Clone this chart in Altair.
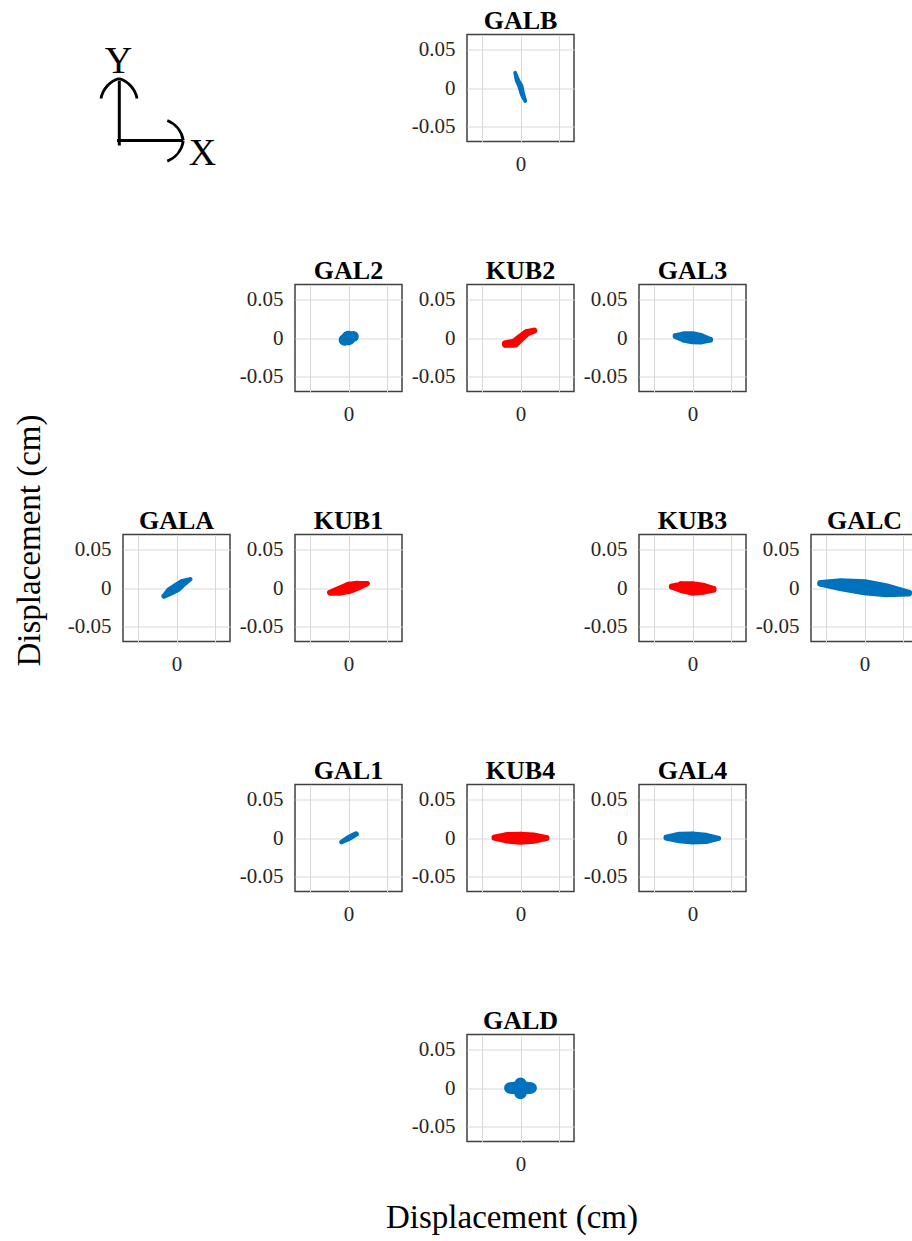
import altair as alt
import pandas as pd

SERIF = "Liberation Serif"
BLUE = "#0072BD"
RED = "#FF0000"

# Orbit footprints per station: centre-line points (cm) and band thickness (cm)
GALB_X = [-0.0070, -0.0040, 0.0000, 0.0025, 0.0062]
GALB_Y = [0.0200, 0.0100, 0.0020, -0.0080, -0.0170]
GALB_W = [0.0050, 0.0070, 0.0080, 0.0070, 0.0050]

GAL2_X = [-0.0055, 0.0000, 0.0065]
GAL2_Y = [-0.0025, 0.0000, 0.0020]
GAL2_W = [0.0150, 0.0190, 0.0140]

KUB2_X = [-0.0193, -0.0075, 0.0000, 0.0079, 0.0180]
KUB2_Y = [-0.0079, -0.0066, 0.0000, 0.0066, 0.0096]
KUB2_W = [0.0100, 0.0120, 0.0110, 0.0100, 0.0080]

GAL3_X = [-0.0220, -0.0110, 0.0000, 0.0110, 0.0230]
GAL3_Y = [0.0025, 0.0014, 0.0003, -0.0009, -0.0022]
GAL3_W = [0.0080, 0.0150, 0.0170, 0.0150, 0.0080]

GALA_X = [-0.0162, -0.0083, 0.0000, 0.0083, 0.0180]
GALA_Y = [-0.0105, -0.0044, 0.0004, 0.0066, 0.0114]
GALA_W = [0.0070, 0.0120, 0.0130, 0.0110, 0.0060]

KUB1_X = [-0.0241, -0.0118, 0.0000, 0.0123, 0.0246]
KUB1_Y = [-0.0061, -0.0035, 0.0000, 0.0031, 0.0057]
KUB1_W = [0.0080, 0.0130, 0.0160, 0.0130, 0.0070]

KUB3_X = [-0.0270, -0.0140, 0.0000, 0.0140, 0.0270]
KUB3_Y = [0.0018, 0.0010, -0.0005, -0.0010, -0.0016]
KUB3_W = [0.0080, 0.0160, 0.0190, 0.0160, 0.0090]

GALC_X = [-0.0575, -0.0320, 0.0000, 0.0294, 0.0579]
GALC_Y = [0.0061, 0.0044, 0.0009, -0.0031, -0.0066]
GALC_W = [0.0090, 0.0170, 0.0210, 0.0180, 0.0090]

GAL1_X = [-0.0092, 0.0004, 0.0101]
GAL1_Y = [-0.0053, 0.0000, 0.0053]
GAL1_W = [0.0060, 0.0080, 0.0070]

KUB4_X = [-0.0340, -0.0180, 0.0000, 0.0180, 0.0340]
KUB4_Y = [0.0005, 0.0003, -0.0003, -0.0002, 0.0000]
KUB4_W = [0.0080, 0.0150, 0.0170, 0.0145, 0.0080]

GAL4_X = [-0.0340, -0.0180, 0.0000, 0.0180, 0.0340]
GAL4_Y = [0.0005, 0.0006, 0.0000, -0.0005, -0.0004]
GAL4_W = [0.0080, 0.0150, 0.0170, 0.0145, 0.0070]

# GALD has two lobes: an east-west and a north-south band
GALD_H_X = [-0.0140, 0.0000, 0.0140]
GALD_H_Y = [0.0000, 0.0000, 0.0000]
GALD_H_W = [0.0150, 0.0180, 0.0150]
GALD_V_X = [0.0000, 0.0000, 0.0000]
GALD_V_Y = [0.0058, 0.0000, -0.0068]
GALD_V_W = [0.0160, 0.0180, 0.0160]

STATIONS = {
    "GALB": ([(GALB_X, GALB_Y, GALB_W)], BLUE),
    "GAL2": ([(GAL2_X, GAL2_Y, GAL2_W)], BLUE),
    "KUB2": ([(KUB2_X, KUB2_Y, KUB2_W)], RED),
    "GAL3": ([(GAL3_X, GAL3_Y, GAL3_W)], BLUE),
    "GALA": ([(GALA_X, GALA_Y, GALA_W)], BLUE),
    "KUB1": ([(KUB1_X, KUB1_Y, KUB1_W)], RED),
    "KUB3": ([(KUB3_X, KUB3_Y, KUB3_W)], RED),
    "GALC": ([(GALC_X, GALC_Y, GALC_W)], BLUE),
    "GAL1": ([(GAL1_X, GAL1_Y, GAL1_W)], BLUE),
    "KUB4": ([(KUB4_X, KUB4_Y, KUB4_W)], RED),
    "GAL4": ([(GAL4_X, GAL4_Y, GAL4_W)], BLUE),
    "GALD": ([(GALD_H_X, GALD_H_Y, GALD_H_W), (GALD_V_X, GALD_V_Y, GALD_V_W)], BLUE),
}

# Station arrangement on the map-like grid; "ytitle" is an empty cell that
# carries the shared vertical axis title, None is a plain empty cell
LAYOUT = [
    ["icon", None, "GALB", None, None],
    ["ytitle", "GAL2", "KUB2", "GAL3", None],
    ["GALA", "KUB1", None, "KUB3", "GALC"],
    [None, "GAL1", "KUB4", "GAL4", None],
    [None, None, "GALD", None, None],
]

TICKS = [-0.05, 0, 0.05]
LIM = [-0.07, 0.07]
SIDE = 107
AXIS_TITLE = "Displacement (cm)"

# Direction icon (cell pixel units, origin at the cell's top-left corner)
ICON_SEG_X = [-3.7, -6.0]
ICON_SEG_Y = [111.0, 106.0]
ICON_SEG_X2 = [-3.7, 60.0]
ICON_SEG_Y2 = [46.0, 106.0]
# curved arrow-head legs: arc centre, radius and angular span (radians)
ICON_ARC_X = [3.5, -11.5, 34.6, 34.6]
ICON_ARC_Y = [68.9, 68.9, 110.1, 102.5]
ICON_ARC_R = [26.0, 26.0, 26.0, 26.0]
ICON_ARC_T1 = [-1.381, 0.293, 0.382, 1.730]
ICON_ARC_T2 = [-0.293, 1.381, 1.412, 2.760]
ICON_TXT = ["Y", "X"]
ICON_TXT_X = [-4.5, 79.5]
ICON_TXT_Y = [27.5, 119.0]


def station_frame(name):
    strokes, _ = STATIONS[name]
    rows = []
    for part, (xs, ys, ws) in enumerate(strokes):
        for i, (x, y, w) in enumerate(zip(xs, ys, ws)):
            rows.append({"part": part, "seq": i, "x": x, "y": y, "w": w})
    return pd.DataFrame(rows)


def panel(name):
    color = STATIONS[name][1]
    x_kw = dict(values=TICKS, labelExpr="datum.value == 0 ? '0' : ''",
                labelPadding=12, title=None)
    y_kw = dict(values=TICKS, labelPadding=12, title=None,
                labelExpr="datum.value == 0 ? '0' : (datum.value < 0 ? '-' : '') + format(abs(datum.value), '.2f')")
    if name == "GALD":
        x_kw.update(title=AXIS_TITLE, titleX=44.5, titleY=76,
                    titleBaseline="middle", titleAlign="center")
    scale = alt.Scale(domain=LIM, nice=False, zero=False)
    return alt.Chart(station_frame(name)).mark_trail(color=color).encode(
        x=alt.X("x:Q", scale=scale, axis=alt.Axis(**x_kw)),
        y=alt.Y("y:Q", scale=scale, axis=alt.Axis(**y_kw)),
        size=alt.Size("w:Q", scale=alt.Scale(domain=[0, LIM[1] - LIM[0]], range=[0, SIDE]),
                      legend=None),
        detail="part:N",
        order="seq:Q",
    ).properties(width=SIDE, height=SIDE, title=name)


def spacer(with_title=False):
    y = alt.value(0)
    if with_title:
        # shared vertical title, placed beside the middle row
        y = alt.Y("v:Q", axis=alt.Axis(
            title=AXIS_TITLE, labels=False, grid=False, ticks=False, domain=False,
            titleX=-94, titleY=255.5, titleAngle=270,
            titleBaseline="middle", titleAlign="center"))
    return alt.Chart(pd.DataFrame({"v": [0]})).mark_point(opacity=0).encode(
        x=alt.value(0), y=y
    ).properties(width=SIDE, height=SIDE, view=alt.ViewBackground(stroke="transparent"))


def icon():
    px = alt.Scale(domain=[0, SIDE], nice=False, zero=False)
    py = alt.Scale(domain=[0, SIDE], nice=False, zero=False, reverse=True)
    segs = pd.DataFrame({"x": ICON_SEG_X, "y": ICON_SEG_Y, "x2": ICON_SEG_X2, "y2": ICON_SEG_Y2})
    arcs = pd.DataFrame({"x": ICON_ARC_X, "y": ICON_ARC_Y, "r": ICON_ARC_R,
                         "t1": ICON_ARC_T1, "t2": ICON_ARC_T2})
    txt = pd.DataFrame({"x": ICON_TXT_X, "y": ICON_TXT_Y, "t": ICON_TXT})
    lines = alt.Chart(segs).mark_rule(color="black", strokeWidth=3).encode(
        x=alt.X("x:Q", scale=px, axis=None), y=alt.Y("y:Q", scale=py, axis=None),
        x2="x2:Q", y2="y2:Q")
    heads = alt.Chart(arcs).transform_calculate(
        ro="datum.r + 1.4", ri="datum.r - 1.4"
    ).mark_arc(color="black").encode(
        x=alt.X("x:Q", scale=px, axis=None), y=alt.Y("y:Q", scale=py, axis=None),
        theta=alt.Theta("t1:Q", scale=None), theta2="t2:Q",
        radius=alt.Radius("ro:Q", scale=None), radius2="ri:Q")
    labels = alt.Chart(txt).mark_text(font=SERIF, fontSize=38, color="black",
                                      align="center", baseline="middle").encode(
        x=alt.X("x:Q", scale=px, axis=None), y=alt.Y("y:Q", scale=py, axis=None),
        text="t:N")
    return alt.layer(lines, heads, labels).properties(
        width=SIDE, height=SIDE, view=alt.ViewBackground(stroke="transparent"))


cells = []
for row in LAYOUT:
    for name in row:
        if name is None:
            cells.append(spacer())
        elif name == "ytitle":
            cells.append(spacer(with_title=True))
        elif name == "icon":
            cells.append(icon())
        else:
            cells.append(panel(name))

chart = alt.concat(
    *cells, columns=5, bounds="flush", spacing={"row": 143, "column": 65}
).properties(
    padding={"left": 12, "top": 6.5, "right": -7, "bottom": 2}
).configure_view(
    stroke="#404040", strokeWidth=1.5
).configure_axis(
    labelFont=SERIF, labelFontSize=21, labelColor="#262626",
    gridColor="#d9d9d9", gridWidth=1, domain=False, ticks=False,
    titleFont=SERIF, titleFontSize=33, titleFontWeight="normal", titleColor="black"
).configure_title(
    font=SERIF, fontSize=26, fontWeight="bold", color="black", offset=1
)

chart.save("out.html", embed_options={"renderer": "svg", "actions": False})
